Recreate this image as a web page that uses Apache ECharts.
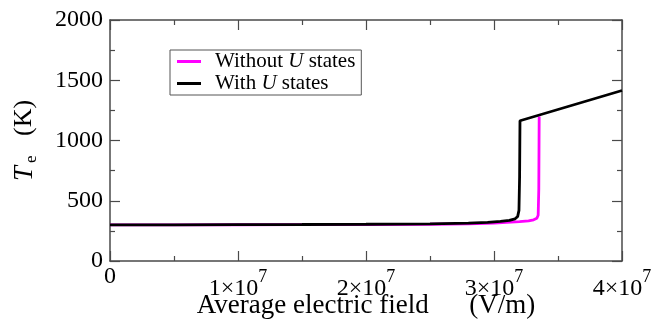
<!DOCTYPE html>
<html>
<head>
<meta charset="utf-8">
<script src="https://cdn.jsdelivr.net/npm/echarts@6/dist/echarts.min.js"></script>
<style>
html,body{margin:0;padding:0;background:#fff;}
#chart{width:668px;height:328px;}
</style>
</head>
<body>
<div id="chart"></div>
<script>
// Electron temperature vs. average electric field
const seriesNames = ['Without U states', 'With U states'];
const withoutU = [
  [0, 300], [5e6, 300], [1e7, 301], [1.5e7, 302], [2e7, 303], [2.5e7, 305],
  [2.8e7, 309], [3.0e7, 315], [3.1e7, 320], [3.2e7, 326], [3.27e7, 333],
  [3.31e7, 342], [3.335e7, 355], [3.345e7, 380], [3.35e7, 600], [3.352e7, 1000], [3.353e7, 1200]
];
const withU = [
  [0, 300], [5e6, 300], [1e7, 302], [1.5e7, 303], [2e7, 305], [2.5e7, 308],
  [2.8e7, 314], [2.95e7, 320], [3.05e7, 328], [3.12e7, 337], [3.165e7, 350],
  [3.185e7, 370], [3.195e7, 420], [3.2e7, 700], [3.203e7, 1164], [4e7, 1415]
];
const colors = ['#ff00ff', '#000000'];

const serif = 'Liberation Serif';
const axisColor = '#4a4a4a';

// "0" sits right under the axis; the m×10 part of the other labels drops lower,
// leaving the exponent at the height of the "0"
function sciLabel(v) {
  if (v === 0) return '{z|0}';
  const m = Math.round(v / 1e7);
  return '{n|' + m + '×10}{s|7}';
}

// shared frame styling for all four sides
function frameAxis(extra) {
  return Object.assign({
    axisLine: { show: true, onZero: false, lineStyle: { color: axisColor, width: 1.5 } },
    axisTick: { show: true, inside: true, length: 10, lineStyle: { color: axisColor, width: 1.2 } },
    minorTick: { show: true, splitNumber: 2, length: 5, lineStyle: { color: axisColor, width: 1.2 } },
    splitLine: { show: false }
  }, extra);
}

const chart = echarts.init(document.getElementById('chart'));
chart.setOption({
  animation: false,
  grid: { left: 110, right: 46, top: 20, bottom: 67, containLabel: false, outerBoundsMode: 'none' },
  legend: {
    data: seriesNames,
    left: 170, top: 50,
    orient: 'vertical',
    itemGap: 1,
    itemWidth: 24, itemHeight: 3,
    icon: 'rect',
    padding: [1, 6, 1, 7],
    borderColor: '#555', borderWidth: 1,
    formatter: function (name) {
      return name === 'With U states'
        ? '{n|With }{i|U}{n| states}'
        : '{n|Without }{i|U}{n| states}';
    },
    textStyle: {
      fontFamily: serif, fontSize: 21, color: '#000', padding: [0, 0, 0, 9],
      rich: {
        n: { fontFamily: serif, fontSize: 21, color: '#000' },
        i: { fontFamily: serif, fontSize: 21, fontStyle: 'italic', color: '#000' }
      }
    }
  },
  xAxis: [frameAxis({
    type: 'value', min: 0, max: 4e7, interval: 1e7,
    name: 'Average electric field      (V/m)',
    nameLocation: 'middle', nameGap: 31, nameMoveOverlap: false,
    nameTextStyle: { fontFamily: serif, fontSize: 27, color: '#000' },
    axisLabel: {
      margin: 4,
      formatter: sciLabel,
      rich: {
        z: { fontFamily: serif, fontSize: 24, lineHeight: 24, color: '#000' },
        n: { fontFamily: serif, fontSize: 24, lineHeight: 24, color: '#000', padding: [23, 0, 0, 0] },
        s: { fontFamily: serif, fontSize: 18, lineHeight: 24, color: '#000' }
      }
    }
  }), frameAxis({
    type: 'value', min: 0, max: 4e7, interval: 1e7, position: 'top',
    axisLabel: { show: false }
  })],
  yAxis: [frameAxis({
    type: 'value', min: 0, max: 2000, interval: 500,
    name: '{i|T}{sub|e}{n|   (K)}',
    nameLocation: 'middle', nameGap: 70, nameMoveOverlap: false,
    nameTextStyle: {
      rich: {
        i: { fontFamily: serif, fontSize: 27, fontStyle: 'italic', color: '#000' },
        sub: { fontFamily: serif, fontSize: 17, color: '#000', verticalAlign: 'bottom', padding: [14, 0, 0, 3] },
        n: { fontFamily: serif, fontSize: 26, color: '#000' }
      }
    },
    axisLabel: {
      fontFamily: serif, fontSize: 24, color: '#000', margin: 7,
      formatter: function (v) { return String(v); }
    }
  }), frameAxis({
    type: 'value', min: 0, max: 2000, interval: 500, position: 'right',
    axisLabel: { show: false }
  })],
  series: [{
    name: seriesNames[0], type: 'line', data: withoutU,
    showSymbol: false, color: colors[0],
    lineStyle: { width: 2.8, color: colors[0] }
  }, {
    name: seriesNames[1], type: 'line', data: withU,
    showSymbol: false, color: colors[1],
    lineStyle: { width: 2.8, color: colors[1] }
  }]
});
</script>
</body>
</html>
